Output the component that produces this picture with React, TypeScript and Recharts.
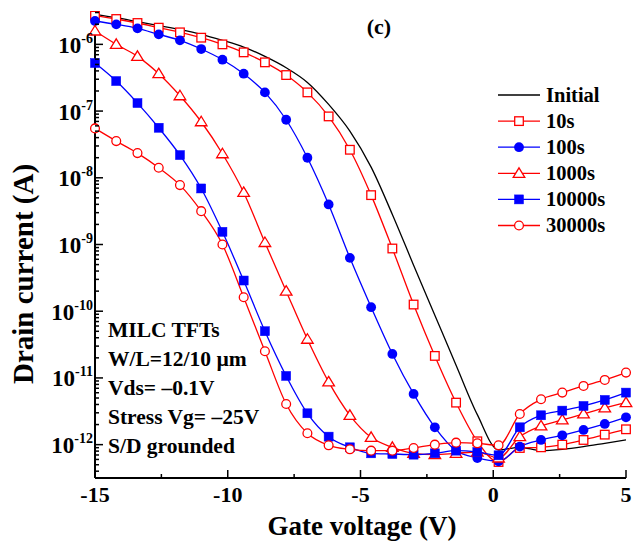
import React from 'react'
import { Legend, Line, LineChart, XAxis, YAxis } from 'recharts'

// gate voltage sweep, one point every 0.8 V
const gateVoltage = [
  -15, -14.2, -13.4, -12.6, -11.8, -11, -10.2, -9.4, -8.6, -7.8, -7, -6.2, -5.4,
  -4.6, -3.8, -3, -2.2, -1.4, -0.6, 0.2, 1, 1.8, 2.6, 3.4, 4.2, 5,
]

// drain current, stored as log10(I / A)
const initialLog = [
  -5.55, -5.6, -5.66, -5.72, -5.78, -5.85, -5.94, -6.04, -6.18, -6.35, -6.57, -6.9, -7.3,
  -7.84, -8.55, -9.31, -10.06, -10.81, -11.55, -12.08, -12.04, -12.09, -12.07, -12.03, -11.98, -11.93,
]
const s10Log = [
  -5.57, -5.62, -5.68, -5.75, -5.82, -5.9, -6.0, -6.12, -6.27, -6.46, -6.72, -7.08, -7.58,
  -8.26, -9.06, -9.9, -10.67, -11.37, -11.95, -12.26, -12.05, -12.04, -12.0, -11.93, -11.85, -11.77,
]
const s100Log = [
  -5.65, -5.7, -5.76, -5.85, -5.94, -6.07, -6.23, -6.44, -6.72, -7.13, -7.7, -8.4, -9.2,
  -9.94, -10.64, -11.24, -11.74, -12.09, -12.2, -12.25, -12.03, -11.93, -11.86, -11.78, -11.69, -11.59,
]
const s1000Log = [
  -5.8, -6.0, -6.18, -6.44, -6.77, -7.16, -7.64, -8.22, -8.97, -9.7, -10.42, -11.06, -11.56,
  -11.89, -12.04, -12.13, -12.15, -12.13, -12.11, -12.2, -11.88, -11.72, -11.63, -11.54, -11.45, -11.37,
]
const s10000Log = [
  -6.28, -6.55, -6.88, -7.25, -7.66, -8.16, -8.81, -9.54, -10.3, -10.97, -11.53, -11.88, -12.04,
  -12.13, -12.14, -12.15, -12.13, -12.09, -12.11, -12.16, -11.74, -11.56, -11.49, -11.42, -11.33, -11.22,
]
const s30000Log = [
  -7.26, -7.45, -7.63, -7.85, -8.11, -8.5, -9.0, -9.79, -10.6, -11.39, -11.83, -12.01, -12.07,
  -12.09, -12.09, -12.05, -12.0, -11.97, -11.98, -12.01, -11.54, -11.32, -11.22, -11.12, -11.03, -10.92,
]

const xTicks = [-15, -12.5, -10, -7.5, -5, -2.5, 0, 2.5, 5]
const annotation = ['MILC TFTs', 'W/L=12/10 \u00b5m', 'Vds= \u20130.1V', 'Stress Vg= \u201325V', 'S/D grounded']

type Marker = 'none' | 'openSquare' | 'dot' | 'openTriangle' | 'square' | 'openCircle'

const SERIES: { key: string; name: string; color: string; marker: Marker; values: number[] }[] = [
  { key: 'initial', name: 'Initial', color: '#000000', marker: 'none', values: initialLog },
  { key: 's10', name: '10s', color: '#ff0000', marker: 'openSquare', values: s10Log },
  { key: 's100', name: '100s', color: '#0000ff', marker: 'dot', values: s100Log },
  { key: 's1000', name: '1000s', color: '#ff0000', marker: 'openTriangle', values: s1000Log },
  { key: 's10000', name: '10000s', color: '#0000ff', marker: 'square', values: s10000Log },
  { key: 's30000', name: '30000s', color: '#ff0000', marker: 'openCircle', values: s30000Log },
]

const data = gateVoltage.map((vg, i) => {
  const row: Record<string, number> = { vg }
  SERIES.forEach((s) => {
    row[s.key] = 10 ** s.values[i]
  })
  return row
})

const Y_MIN = 10 ** -12.5
const Y_MAX = 10 ** -5.5
const yTicks: number[] = []
for (let d = -13; d <= -6; d++) {
  for (let m = 1; m <= 9; m++) {
    const v = m * 10 ** d
    if (v >= Y_MIN && v <= Y_MAX) yTicks.push(v)
  }
}

const FONT = "'Liberation Serif', 'Times New Roman', serif"

function MarkerShape({ type, cx, cy, color }: { type: Marker; cx: number; cy: number; color: string }) {
  if (type === 'openSquare')
    return <rect x={cx - 4.3} y={cy - 4.3} width={8.6} height={8.6} fill="#fff" stroke={color} strokeWidth={1.3} />
  if (type === 'square')
    return <rect x={cx - 4.5} y={cy - 4.5} width={9} height={9} fill={color} stroke={color} strokeWidth={0.5} />
  if (type === 'dot') return <circle cx={cx} cy={cy} r={4.9} fill={color} />
  if (type === 'openCircle') return <circle cx={cx} cy={cy} r={4.4} fill="#fff" stroke={color} strokeWidth={1.3} />
  if (type === 'openTriangle')
    return (
      <polygon
        points={`${cx},${cy - 5.5} ${cx + 5.8},${cy + 4} ${cx - 5.8},${cy + 4}`}
        fill="#fff"
        stroke={color}
        strokeWidth={1.3}
      />
    )
  return null
}

function XTick(props: any) {
  const { x, y, payload } = props
  const v = payload.value as number
  const major = Number.isInteger(v)
  return (
    <g>
      <line x1={x} x2={x} y1={y} y2={y - (major ? 8 : 4)} stroke="#000" strokeWidth={1.5} />
      {major && (
        <text x={x} y={y + 24} textAnchor="middle" fontFamily={FONT} fontWeight="bold" fontSize={22} fill="#000">
          {v}
        </text>
      )}
    </g>
  )
}

function YTick(props: any) {
  const { x, y, payload } = props
  const e = Math.log10(payload.value)
  const major = Math.abs(e - Math.round(e)) < 1e-6
  return (
    <g>
      <line x1={x} x2={x + (major ? 8 : 4)} y1={y} y2={y} stroke="#000" strokeWidth={1.5} />
      {major && (
        <text x={x - 2} y={y + 8.5} textAnchor="end" fontFamily={FONT} fontWeight="bold" fontSize={23} fill="#000">
          <tspan>10</tspan>
          <tspan dy={-10} fontSize={14}>
            {Math.round(e)}
          </tspan>
        </text>
      )}
    </g>
  )
}

function LegendBox() {
  return (
    <svg width={150} height={160}>
      {SERIES.map((s, i) => {
        const y = 15 + i * 26.1
        return (
          <g key={s.key}>
            <line x1={8} x2={50} y1={y} y2={y} stroke={s.color} strokeWidth={1.3} />
            <MarkerShape type={s.marker} cx={29} cy={y} color={s.color} />
            <text x={56} y={y + 6.5} fontFamily={FONT} fontWeight="bold" fontSize={20.5} fill="#000">
              {s.name}
            </text>
          </g>
        )
      })}
    </svg>
  )
}

export default function App() {
  return (
    <div style={{ position: 'relative', width: 640, height: 544, background: '#fff' }}>
      <style>{'body{margin:0}'}</style>
      <LineChart width={640} height={544} data={data} margin={{ top: 11, right: 14, bottom: 0, left: 0 }}>
        <XAxis
          dataKey="vg"
          type="number"
          domain={[-15, 5]}
          ticks={xTicks}
          interval={0}
          height={66}
          tickLine={false}
          tickSize={0}
          tickMargin={0}
          axisLine={{ stroke: '#000', strokeWidth: 2 }}
          tick={<XTick />}
        />
        <XAxis
          xAxisId="top"
          orientation="top"
          type="number"
          domain={[-15, 5]}
          height={0}
          tick={false}
          tickLine={false}
          axisLine={{ stroke: '#000', strokeWidth: 2 }}
        />
        <YAxis
          scale="log"
          type="number"
          domain={[Y_MIN, Y_MAX]}
          allowDataOverflow
          ticks={yTicks}
          interval={0}
          width={95}
          tickLine={false}
          tickSize={0}
          tickMargin={0}
          axisLine={{ stroke: '#000', strokeWidth: 2 }}
          tick={<YTick />}
        />
        <YAxis
          yAxisId="right"
          orientation="right"
          scale="log"
          type="number"
          domain={[Y_MIN, Y_MAX]}
          allowDataOverflow
          width={0}
          tick={false}
          tickLine={false}
          axisLine={{ stroke: '#000', strokeWidth: 2 }}
        />
        {SERIES.map((s) => (
          <Line
            key={s.key}
            dataKey={s.key}
            name={s.name}
            type="monotone"
            stroke={s.color}
            strokeWidth={1.3}
            isAnimationActive={false}
            activeDot={false}
            dot={
              s.marker === 'none'
                ? false
                : (p: any) => <MarkerShape key={`${s.key}-${p.index}`} type={s.marker} cx={p.cx} cy={p.cy} color={s.color} />
            }
          />
        ))}
        <Legend
          layout="vertical"
          align="center"
          verticalAlign="middle"
          content={() => <LegendBox />}
          wrapperStyle={{ position: 'absolute', left: 490, top: 80, width: 150, height: 160 }}
        />
      </LineChart>
      <svg
        width={640}
        height={544}
        style={{ position: 'absolute', left: 0, top: 0, pointerEvents: 'none' }}
        fontFamily={FONT}
        fontWeight="bold"
        fill="#000"
      >
        <text x={379} y={34} textAnchor="middle" fontSize={22}>
          (c)
        </text>
        {annotation.map((line, i) => (
          <text key={line} x={108} y={337 + i * 29} fontSize={21.5}>
            {line}
          </text>
        ))}
        <text x={362} y={535} textAnchor="middle" fontSize={27}>
          Gate voltage (V)
        </text>
        <text transform="translate(33, 274) rotate(-90)" textAnchor="middle" fontSize={29}>
          Drain current (A)
        </text>
      </svg>
    </div>
  )
}
